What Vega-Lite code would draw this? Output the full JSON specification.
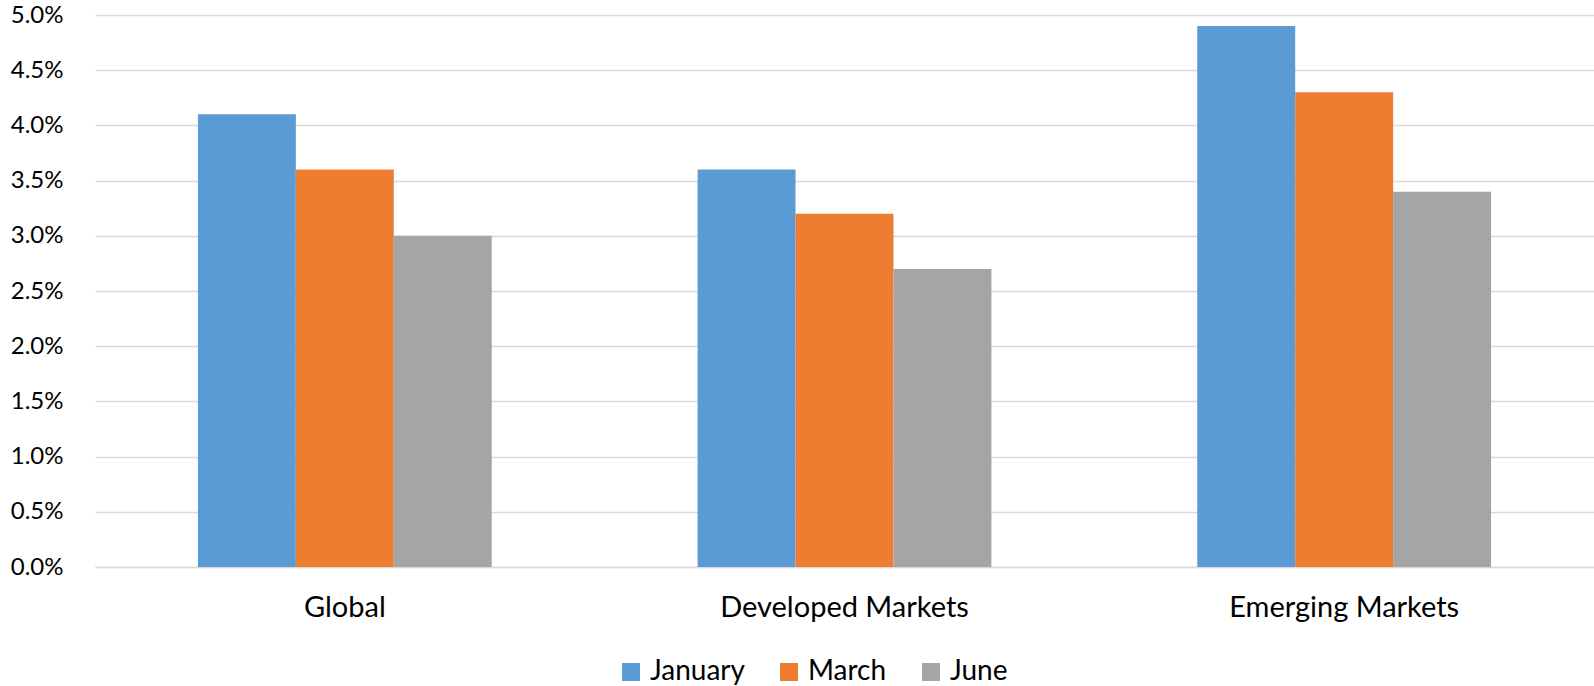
{
  "$schema": "https://vega.github.io/schema/vega-lite/v6.json",
  "autosize": "none",
  "padding": {"left": 95, "top": 15, "right": 0, "bottom": 119},
  "width": 1499,
  "height": 552,
  "background": "white",
  "config": {
    "font": "Lato",
    "view": {"stroke": null}
  },
  "data": {
    "values": [
      {"region": "Global", "month": "January", "value": 0.041},
      {"region": "Global", "month": "March", "value": 0.036},
      {"region": "Global", "month": "June", "value": 0.030},
      {"region": "Developed Markets", "month": "January", "value": 0.036},
      {"region": "Developed Markets", "month": "March", "value": 0.032},
      {"region": "Developed Markets", "month": "June", "value": 0.027},
      {"region": "Emerging Markets", "month": "January", "value": 0.049},
      {"region": "Emerging Markets", "month": "March", "value": 0.043},
      {"region": "Emerging Markets", "month": "June", "value": 0.034}
    ]
  },
  "mark": {"type": "bar"},
  "encoding": {
    "x": {
      "field": "region",
      "type": "nominal",
      "sort": ["Global", "Developed Markets", "Emerging Markets"],
      "scale": {"paddingInner": 0.412, "paddingOuter": 0.206},
      "axis": {
        "title": null,
        "labelAngle": 0,
        "labelFontSize": 29,
        "labelLimit": 0,
        "labelColor": "#000000",
        "labelPadding": 26,
        "ticks": false,
        "domain": true,
        "domainColor": "#D9D9D9",
        "domainWidth": 1.5
      }
    },
    "xOffset": {
      "field": "month",
      "type": "nominal",
      "sort": ["January", "March", "June"],
      "scale": {"paddingInner": 0, "paddingOuter": 0}
    },
    "y": {
      "field": "value",
      "type": "quantitative",
      "scale": {"domain": [0, 0.05], "nice": false},
      "axis": {
        "title": null,
        "format": ".1%",
        "values": [0, 0.005, 0.01, 0.015, 0.02, 0.025, 0.03, 0.035, 0.04, 0.045, 0.05],
        "labelFontSize": 24,
        "labelColor": "#000000",
        "labelPadding": 32,
        "ticks": false,
        "domain": false,
        "gridColor": "#D9D9D9",
        "gridWidth": 1.5
      }
    },
    "color": {
      "field": "month",
      "type": "nominal",
      "sort": ["January", "March", "June"],
      "scale": {"domain": ["January", "March", "June"], "range": ["#5B9BD5", "#ED7D31", "#A5A5A5"]},
      "legend": {
        "title": null,
        "orient": "none",
        "direction": "horizontal",
        "legendX": 522,
        "legendY": 643,
        "symbolType": "square",
        "symbolSize": 324,
        "symbolStrokeWidth": 0,
        "labelFontSize": 28,
        "labelColor": "#000000",
        "labelOffset": 5,
        "columnPadding": 30
      }
    }
  }
}
